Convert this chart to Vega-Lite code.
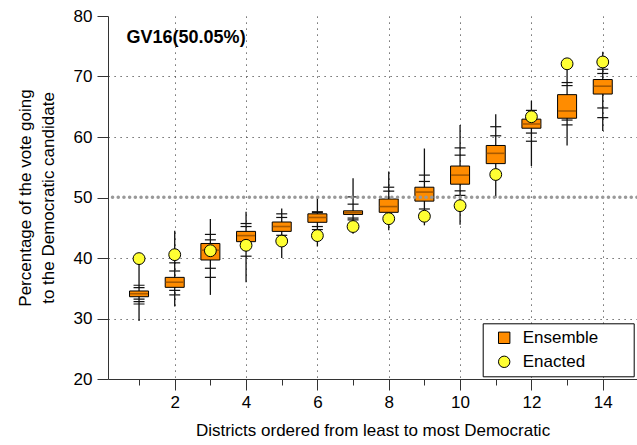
{
  "$schema": "https://vega.github.io/schema/vega-lite/v6.json",
  "width": 529,
  "height": 363,
  "autosize": {"type": "none"},
  "padding": {"left": 108, "top": 16, "right": 0, "bottom": 66},
  "background": "white",
  "config": {
    "view": {"stroke": null},
    "font": "Liberation Sans",
    "text": {"font": "Liberation Sans"}
  },
  "datasets": {
    "boxes": [
      {"d": 1, "min": 29.6, "q1": 33.6, "med": 34.1, "q3": 34.55, "max": 39.5, "enacted": 39.9},
      {"d": 2, "min": 32.0, "q1": 35.15, "med": 36.0, "q3": 36.8, "max": 44.5, "enacted": 40.55},
      {"d": 3, "min": 33.9, "q1": 39.67, "med": 41.3, "q3": 42.4, "max": 46.45, "enacted": 41.2},
      {"d": 4, "min": 36.0, "q1": 42.7, "med": 43.7, "q3": 44.4, "max": 47.65, "enacted": 42.1},
      {"d": 5, "min": 40.0, "q1": 44.4, "med": 45.2, "q3": 45.95, "max": 48.2, "enacted": 42.8},
      {"d": 6, "min": 41.9, "q1": 45.9, "med": 46.7, "q3": 47.3, "max": 50.0, "enacted": 43.7},
      {"d": 7, "min": 44.0, "q1": 47.2, "med": 47.5, "q3": 47.8, "max": 53.2, "enacted": 45.2},
      {"d": 8, "min": 44.6, "q1": 47.55, "med": 48.5, "q3": 49.75, "max": 54.3, "enacted": 46.5},
      {"d": 9, "min": 45.4, "q1": 49.4, "med": 50.9, "q3": 51.7, "max": 58.1, "enacted": 46.9},
      {"d": 10, "min": 45.5, "q1": 52.2, "med": 53.7, "q3": 55.2, "max": 62.0, "enacted": 48.65},
      {"d": 11, "min": 49.9, "q1": 55.6, "med": 57.3, "q3": 58.6, "max": 63.75, "enacted": 53.8},
      {"d": 12, "min": 55.2, "q1": 61.45, "med": 62.15, "q3": 62.95, "max": 66.0, "enacted": 63.35},
      {"d": 13, "min": 58.6, "q1": 63.1, "med": 64.3, "q3": 67.0, "max": 71.8, "enacted": 72.1},
      {"d": 14, "min": 61.0, "q1": 67.1, "med": 68.4, "q3": 69.5, "max": 74.1, "enacted": 72.4}
    ],
    "ticks": [
      {"d": 1, "v": 35.5}, {"d": 1, "v": 35.1}, {"d": 1, "v": 33.2}, {"d": 1, "v": 32.8}, {"d": 1, "v": 32.4},
      {"d": 2, "v": 39.2}, {"d": 2, "v": 37.85}, {"d": 2, "v": 34.65}, {"d": 2, "v": 33.9},
      {"d": 3, "v": 43.9}, {"d": 3, "v": 43.0}, {"d": 3, "v": 38.3}, {"d": 3, "v": 36.8},
      {"d": 4, "v": 45.7}, {"d": 4, "v": 45.2}, {"d": 4, "v": 40.3},
      {"d": 5, "v": 47.3}, {"d": 5, "v": 46.7}, {"d": 5, "v": 43.75},
      {"d": 6, "v": 47.65}, {"d": 6, "v": 47.5}, {"d": 6, "v": 45.2}, {"d": 6, "v": 44.7},
      {"d": 7, "v": 50.1}, {"d": 7, "v": 48.9}, {"d": 7, "v": 46.6}, {"d": 7, "v": 46.3},
      {"d": 8, "v": 51.7}, {"d": 8, "v": 51.05},
      {"d": 9, "v": 53.7}, {"d": 9, "v": 52.65}, {"d": 9, "v": 48.1},
      {"d": 10, "v": 58.2}, {"d": 10, "v": 57.0}, {"d": 10, "v": 51.1}, {"d": 10, "v": 50.35},
      {"d": 11, "v": 61.7}, {"d": 11, "v": 60.2},
      {"d": 12, "v": 64.4}, {"d": 12, "v": 60.65}, {"d": 12, "v": 59.3},
      {"d": 13, "v": 69.0}, {"d": 13, "v": 68.5}, {"d": 13, "v": 62.8}, {"d": 13, "v": 62.0},
      {"d": 14, "v": 71.2}, {"d": 14, "v": 70.5}, {"d": 14, "v": 64.8}, {"d": 14, "v": 63.2}
    ],
    "half": [{"y": 50.05}],
    "label": [{"x": 0.65, "y": 76.3, "t": "GV16(50.05%)"}]
  },
  "layer": [
    {
      "data": {"name": "boxes"},
      "mark": {"type": "rule", "color": "#111111", "strokeWidth": 1.3},
      "encoding": {
        "x": {
          "field": "d", "type": "quantitative",
          "scale": {"domain": [0.27, 14.82], "nice": false, "zero": false},
          "axis": {
            "title": "Districts ordered from least to most Democratic",
            "values": [1, 2, 3, 4, 5, 6, 7, 8, 9, 10, 11, 12, 13, 14],
            "labelExpr": "datum.value % 2 == 0 ? datum.label : ''",
            "tickSize": {"condition": {"test": "datum.value % 2 == 1", "value": 6}, "value": 11},
            "grid": true,
            "gridDash": [1.2, 4.8],
            "gridColor": "#444444",
            "gridOpacity": {"condition": {"test": "datum.value % 2 == 1", "value": 0}, "value": 1},
            "domainColor": "#333333",
            "tickColor": "#333333",
            "labelColor": "black",
            "labelFontSize": 17,
            "labelPadding": 4,
            "labelFlush": false,
            "titleFontSize": 17,
            "titleFontWeight": "normal",
            "titleColor": "black",
            "titlePadding": 12
          }
        },
        "y": {
          "field": "min", "type": "quantitative",
          "scale": {"domain": [20, 80], "nice": false, "zero": false},
          "axis": {
            "title": ["Percentage of the vote going", "to the Democratic candidate"],
            "values": [20, 25, 30, 35, 40, 45, 50, 55, 60, 65, 70, 75, 80],
            "labelExpr": "datum.value % 10 == 0 ? datum.label : ''",
            "tickSize": {"condition": {"test": "datum.value % 10 != 0", "value": 6}, "value": 11},
            "grid": true,
            "gridDash": [1.2, 4.8],
            "gridColor": "#444444",
            "gridOpacity": {"condition": {"test": "datum.value % 10 != 0 || datum.value == 20 || datum.value == 50 || datum.value == 80", "value": 0}, "value": 1},
            "domainColor": "#333333",
            "tickColor": "#333333",
            "labelColor": "black",
            "labelFontSize": 17,
            "labelPadding": 5,
            "labelFlush": false,
            "titleFontSize": 17,
            "titleFontWeight": "normal",
            "titleColor": "black",
            "titleLineHeight": 23,
            "titlePadding": 16
          }
        },
        "y2": {"field": "max"}
      }
    },
    {
      "data": {"name": "ticks"},
      "mark": {"type": "tick", "orient": "horizontal", "size": 11, "thickness": 1.2, "color": "#111111", "opacity": 1},
      "encoding": {
        "x": {"field": "d", "type": "quantitative"},
        "y": {"field": "v", "type": "quantitative"}
      }
    },
    {
      "data": {"name": "boxes"},
      "mark": {"type": "bar", "width": 19, "stroke": "black", "strokeWidth": 1, "orient": "vertical"},
      "encoding": {
        "x": {"field": "d", "type": "quantitative"},
        "y": {"field": "q1", "type": "quantitative"},
        "y2": {"field": "q3"},
        "color": {
          "datum": "Ensemble",
          "scale": {"domain": ["Ensemble", "Enacted"], "range": ["#ff8c00", "#ffff33"]},
          "legend": {
            "orient": "none", "legendX": 374.7, "legendY": 307.3,
            "title": "X",
            "titleOrient": "right", "titleFontSize": 17, "titleOpacity": 0, "titlePadding": 17,
            "strokeColor": "black", "fillColor": "white",
            "padding": 6, "symbolOffset": 7, "symbolSize": 130,
            "symbolStrokeColor": "black", "symbolStrokeWidth": 1,
            "labelFontSize": 17, "labelColor": "black", "labelOffset": 10, "rowPadding": 6
          }
        }
      }
    },
    {
      "data": {"name": "boxes"},
      "mark": {"type": "tick", "orient": "horizontal", "size": 18, "thickness": 1.6, "color": "#a85a00", "opacity": 1},
      "encoding": {
        "x": {"field": "d", "type": "quantitative"},
        "y": {"field": "med", "type": "quantitative"}
      }
    },
    {
      "data": {"name": "half"},
      "mark": {"type": "rule", "color": "#999999", "strokeWidth": 3.5, "strokeCap": "round", "strokeDash": [0.1, 5.6]},
      "encoding": {
        "y": {"field": "y", "type": "quantitative"}
      }
    },
    {
      "data": {"name": "boxes"},
      "mark": {"type": "point", "filled": true, "stroke": "black", "strokeWidth": 1, "size": 140, "opacity": 1},
      "encoding": {
        "x": {"field": "d", "type": "quantitative"},
        "y": {"field": "enacted", "type": "quantitative"},
        "color": {"datum": "Enacted"},
        "shape": {
          "datum": "Enacted",
          "scale": {"domain": ["Ensemble", "Enacted"], "range": ["square", "circle"]},
          "legend": {
            "orient": "none", "legendX": 374.7, "legendY": 307.3,
            "title": "X",
            "titleOrient": "right", "titleFontSize": 17, "titleOpacity": 0, "titlePadding": 17,
            "strokeColor": "black", "fillColor": "white",
            "padding": 6, "symbolOffset": 7, "symbolSize": 130,
            "symbolStrokeColor": "black", "symbolStrokeWidth": 1,
            "labelFontSize": 17, "labelColor": "black", "labelOffset": 10, "rowPadding": 6
          }
        }
      }
    },
    {
      "data": {"name": "label"},
      "mark": {"type": "text", "fontWeight": "bold", "fontSize": 18, "align": "left", "baseline": "middle", "color": "black"},
      "encoding": {
        "x": {"field": "x", "type": "quantitative"},
        "y": {"field": "y", "type": "quantitative"},
        "text": {"field": "t"}
      }
    }
  ]
}
